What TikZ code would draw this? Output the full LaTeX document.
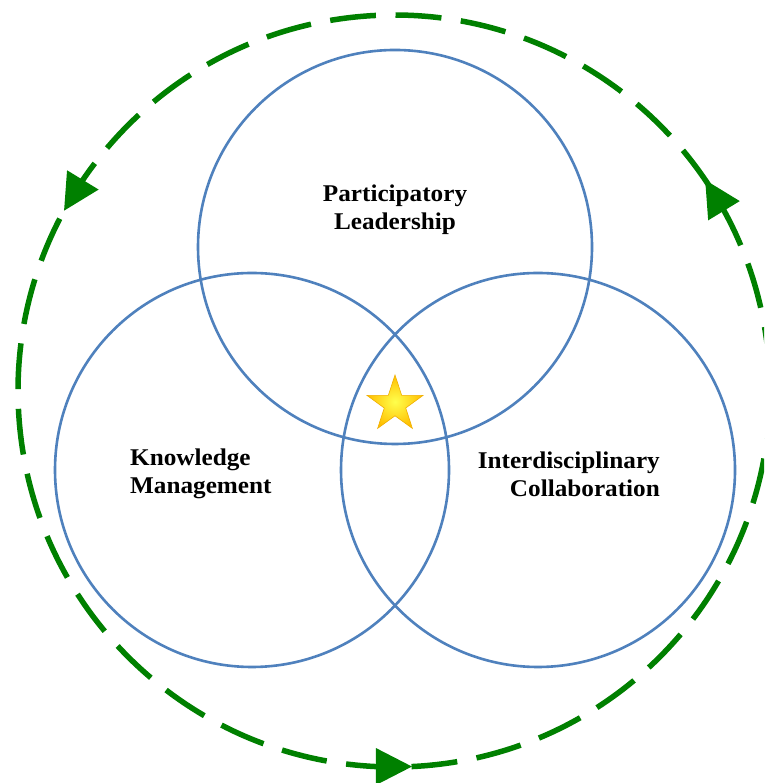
\documentclass[tikz,border=0pt]{standalone}
\usepackage{fontspec}
\setmainfont{Liberation Serif}[BoldFeatures={FakeStretch=1.05}]
\usetikzlibrary{calc}
\definecolor{ringblue}{RGB}{79,129,189}
\definecolor{cyclegreen}{RGB}{0,128,0}
\definecolor{stargold}{RGB}{255,190,0}
\definecolor{staredge}{RGB}{240,175,0}
\tikzset{
  venn/.style={draw=ringblue, line width=2.6pt},
  cycle/.style={draw=cyclegreen, line width=5.5pt, dash pattern=on 46pt off 19.6pt},
  tiphead/.style={fill=cyclegreen},
  lbl/.style={font=\fontsize{24}{28}\selectfont\bfseries, inner sep=0pt}
}
\begin{document}
\begin{tikzpicture}[x=1pt,y=1pt]
\useasboundingbox (0,0) rectangle (764,783);
\clip (0,0) rectangle (764,783);
\fill[white] (0,0) rectangle (764,783);
\coordinate (C) at (394,392);
% dashed cycle
\draw[cycle] ($(C)+(2.8:376)$) arc[start angle=2.8, end angle=362.8, radius=376];
% arrow heads
\foreach \phi in {31.4,148.6,-90}{
  \begin{scope}[shift={($(C)+(\phi-2.75:376)$)}, rotate=\phi+90]
    \fill[tiphead] (0,-18.5) -- (36,0) -- (0,18.5) -- cycle;
  \end{scope}
}
% Venn circles
\draw[venn] (395,536) circle[radius=197];
\draw[venn] (252,313) circle[radius=197];
\draw[venn] (538,313) circle[radius=197];
% labels
\node[lbl, align=center] (pl) at (395,573) {Participatory\\Leadership};
\node[lbl, align=left, anchor=west] (km) at (130,309) {Knowledge\\Management};
\node[lbl, align=right, anchor=east] (ic) at (660,309) {Interdisciplinary\\Collaboration};
% star
\begin{scope}[shift={(395,378.5)}]
  \shade[inner color=yellow!70!white, outer color=stargold, draw=staredge, line width=0.6pt]
    (90:29.5) -- (126:11.3) -- (162:29.5) -- (198:11.3) -- (234:29.5) -- (270:11.3)
    -- (306:29.5) -- (342:11.3) -- (18:29.5) -- (54:11.3) -- cycle;
\end{scope}
\end{tikzpicture}
\end{document}
